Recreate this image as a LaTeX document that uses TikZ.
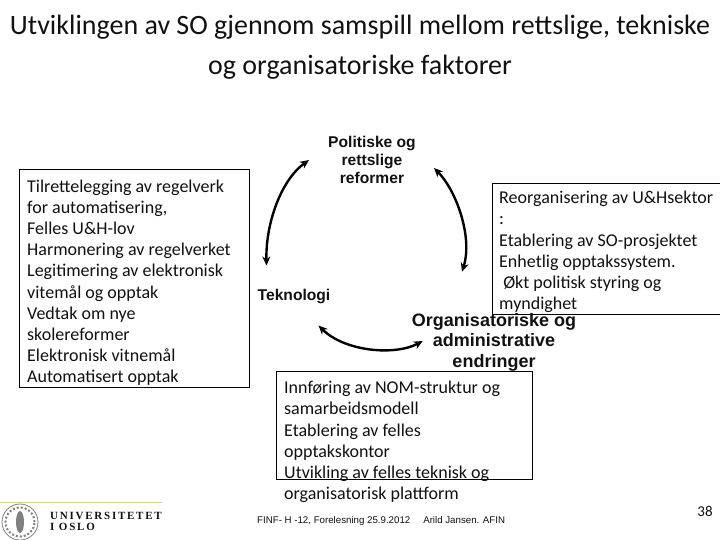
\documentclass[tikz,border=0pt]{standalone}
\usepackage{fontspec}
\setmainfont{Carlito}
\newfontfamily\labelfont{Liberation Sans}
\newfontfamily\logofont{Liberation Serif}
\usetikzlibrary{arrows.meta, shapes.geometric}
\definecolor{inkc}{HTML}{111111}
\definecolor{rulec}{HTML}{D9CE8A}
\definecolor{sealc}{HTML}{808080}
\begin{document}
\begin{tikzpicture}[x=1pt, y=-1pt,
      txt/.style={align=left, anchor=north west, inner sep=0pt, text=inkc,
                  font=\fontsize{18}{21.2}\selectfont},
      box/.style={draw=black, line width=0.8pt, fill=white},
      lab/.style={align=center, inner sep=0pt, text=inkc,
                  font=\labelfont\bfseries\fontsize{15.6}{18.2}\selectfont},
      labbig/.style={align=center, inner sep=0pt, text=inkc,
                  font=\labelfont\bfseries\fontsize{18}{20.6}\selectfont},
      arr/.style={{Stealth[length=9pt,width=8pt]}-{Stealth[length=9pt,width=8pt]}, line width=2.4pt, black}]
    \useasboundingbox (0,0) rectangle (720,540);
    % title
    \node[align=center, inner sep=0pt, text=inkc, font=\fontsize{28}{40}\selectfont] (title) at (360,47)
      {Utviklingen av SO gjennom samspill mellom rettslige, tekniske\\og organisatoriske faktorer};
    % text boxes
    \draw[box] (19,169) rectangle (249,387);
    \node[txt] (left) at (27,179.5) {Tilrettelegging av regelverk\\for automatisering,\\Felles U\&H-lov\\Harmonering av regelverket\\Legitimering av elektronisk\\vitemål og opptak\\Vedtak om nye\\skolereformer\\Elektronisk vitnemål\\Automatisert opptak};
    \draw[box] (492,183) rectangle (722,314);
    \node[txt] (right) at (499,191) {Reorganisering av U\&Hsektor\\:\\Etablering av SO-prosjektet\\Enhetlig opptakssystem.\\\ Økt politisk styring og\\myndighet};
    \draw[box] (276,371) rectangle (532,479);
    \node[txt] (bottom) at (284,381) {Innføring av NOM-struktur og\\samarbeidsmodell\\Etablering av felles\\opptakskontor\\Utvikling av felles teknisk og\\organisatorisk plattform};
    % the three factors
    \node[lab] (pol) at (372,160) {Politiske og\\rettslige\\reformer};
    \node[lab] (tek) at (294,297) {Teknologi};
    \node[labbig] (org) at (494,342) {Organisatoriske og\\administrative\\endringer};
    \draw[arr] ([xshift=-19pt]pol.west) .. controls +(-28,20) and +(-1,-42) .. ([xshift=9pt,yshift=24pt]tek.north west);
    \draw[arr] ([xshift=18pt,yshift=-8pt]pol.east) .. controls +(22,22) and +(11,-35) .. ([xshift=-32pt,yshift=41pt]org.north);
    \draw[arr] ([xshift=61pt,yshift=-21pt]tek.south west) .. controls +(26,26) and +(-28,15) .. ([xshift=11pt,yshift=1pt]org.west);
    % footer
    \draw[rulec, line width=1pt] (0,502) coordinate (rulea) -- (162,502) coordinate (ruleb);
    \node[draw=sealc, circle, line width=0.8pt, minimum size=36pt, inner sep=0pt] (seal) at (20,522) {};
    \node[draw=sealc, circle, dotted, line width=2pt, minimum size=29pt, inner sep=0pt] (sealring) at (seal.center) {};
    \node[fill=sealc, ellipse, minimum width=8pt, minimum height=22pt, inner sep=0pt] (sealfig) at (seal.center) {};
    \node[inner sep=0pt, anchor=west, text=inkc, font=\logofont\bfseries\fontsize{11}{11.5}\selectfont, align=left] (uio) at (50,521.5)
      {\addfontfeatures{LetterSpace=16}UNIVERSITETET\\\addfontfeatures{LetterSpace=16}I OSLO};
    \node[inner sep=0pt, anchor=west, text=inkc, font=\labelfont\fontsize{9.7}{12}\selectfont] (foot) at (257,521)
      {FINF- H -12, Forelesning 25.9.2012\hspace{13pt}Arild Jansen. AFIN};
    \node[inner sep=0pt, text=inkc, font=\fontsize{15}{18}\selectfont] (page) at (705,511) {38};
  \end{tikzpicture}
\end{document}
